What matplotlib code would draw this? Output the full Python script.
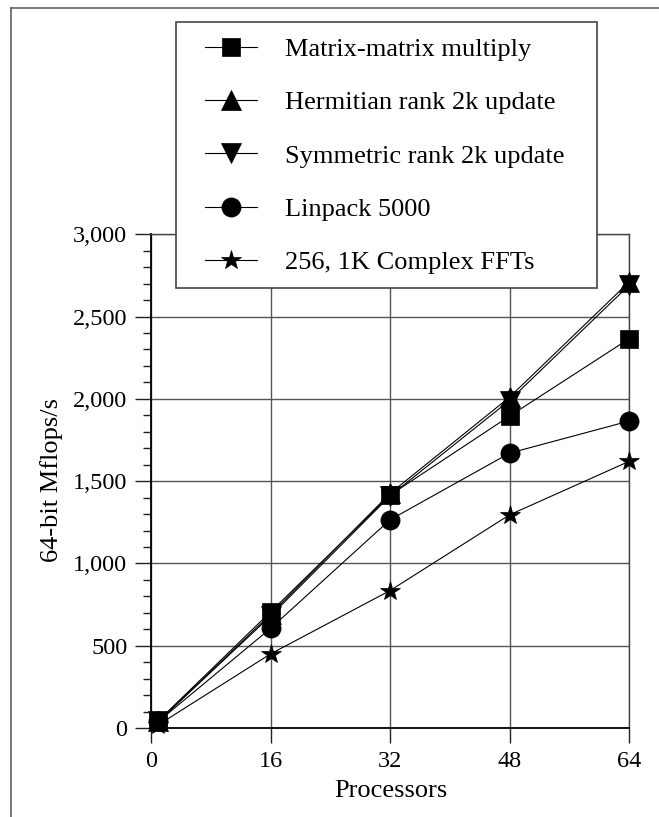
import matplotlib
matplotlib.use("Agg")
import matplotlib.pyplot as plt
from matplotlib.patches import Rectangle
from matplotlib.lines import Line2D
from matplotlib.ticker import MultipleLocator, FixedLocator

plt.rcParams['font.family'] = ['Liberation Serif', 'DejaVu Serif']

processors = [1, 16, 32, 48, 64]
matrix_mult = [45, 705, 1415, 1895, 2365]
hermitian = [40, 690, 1425, 2010, 2710]
symmetric = [40, 680, 1410, 1990, 2690]
linpack = [40, 605, 1265, 1670, 1865]
ffts = [20, 450, 835, 1295, 1620]

series_labels = ["Matrix-matrix multiply", "Hermitian rank 2k update",
                 "Symmetric rank 2k update", "Linpack 5000", "256, 1K Complex FFTs"]
x_ticks = [0, 16, 32, 48, 64]
x_tick_labels = ["0", "16", "32", "48", "64"]
y_ticks = [0, 500, 1000, 1500, 2000, 2500, 3000]
y_tick_labels = ["0", "500", "1,000", "1,500", "2,000", "2,500", "3,000"]

W, H = 659, 817
fig = plt.figure(figsize=(W / 100, H / 100), dpi=100)
ax = fig.add_axes([151 / W, 1 - 728 / H, (629 - 151) / W, (728 - 234.3) / H])

series = [matrix_mult, hermitian, symmetric, linpack, ffts]
markers = ['s', '^', 'v', 'o', '*']
msizes = [13, 14.5, 14.5, 13.8, 15]
handles = []
for vals, mk, ms, lab in zip(series, markers, msizes, series_labels):
    h, = ax.plot(processors, vals, color='black', lw=0.8, marker=mk, markersize=ms,
                 markerfacecolor='black', markeredgecolor='black', markeredgewidth=0.5,
                 clip_on=False, zorder=3, label=lab)
    handles.append(h)

ax.set_xlim(0, 64)
ax.set_ylim(0, 3000)
ax.xaxis.set_major_locator(FixedLocator(x_ticks))
ax.set_xticklabels(x_tick_labels)
ax.yaxis.set_major_locator(FixedLocator(y_ticks))
ax.set_yticklabels(y_tick_labels)
ax.yaxis.set_minor_locator(MultipleLocator(100))

ax.grid(True, which='major', color='#555555', lw=1.0)
ax.set_axisbelow(True)
ax.tick_params(axis='both', which='major', direction='out', labelsize=17.5, width=1.0, color='#222222')
ax.tick_params(axis='y', which='major', length=11.5, pad=5.5)
ax.tick_params(axis='x', which='major', length=10.8, pad=6.0)
ax.tick_params(axis='y', which='minor', length=5.8, width=1.0, direction='out', color='#222222')

for side in ['left', 'bottom']:
    ax.spines[side].set_color('black')
    ax.spines[side].set_linewidth(1.3)
for side in ['top', 'right']:
    ax.spines[side].set_color('#444444')
    ax.spines[side].set_linewidth(1.0)

fig.text(52 / W, 1 - 480 / H, "64-bit Mflops/s", rotation=90, ha='center', va='center', fontsize=19)
fig.text(391 / W, 1 - 791 / H, "Processors", ha='center', va='center', fontsize=19)

# legend box
fig.add_artist(Rectangle((176 / W, 1 - 288 / H), (597 - 176) / W, (288 - 22) / H,
                         transform=fig.transFigure, facecolor='white', edgecolor='#444444',
                         lw=1.2, zorder=4))
fs = 19
fs_px = fs * 100 / 72
leg = fig.legend(handles=handles, labels=series_labels, loc='upper left',
                 bbox_to_anchor=(205 / W, 1 - 37.5 / H), borderpad=0, borderaxespad=0,
                 frameon=False, fontsize=fs, handlelength=52 / fs_px,
                 handletextpad=28 / fs_px, labelspacing=1.13)
leg.set_zorder(5)

# figure frame lines
fig.add_artist(Line2D([10.5 / W, 10.5 / W], [0, 1 - 8 / H], transform=fig.transFigure,
                      color='#555555', lw=1.1))
fig.add_artist(Line2D([10.5 / W, 1], [1 - 8 / H, 1 - 8 / H], transform=fig.transFigure,
                      color='#555555', lw=1.1))

fig.savefig("out.png", dpi=100)
